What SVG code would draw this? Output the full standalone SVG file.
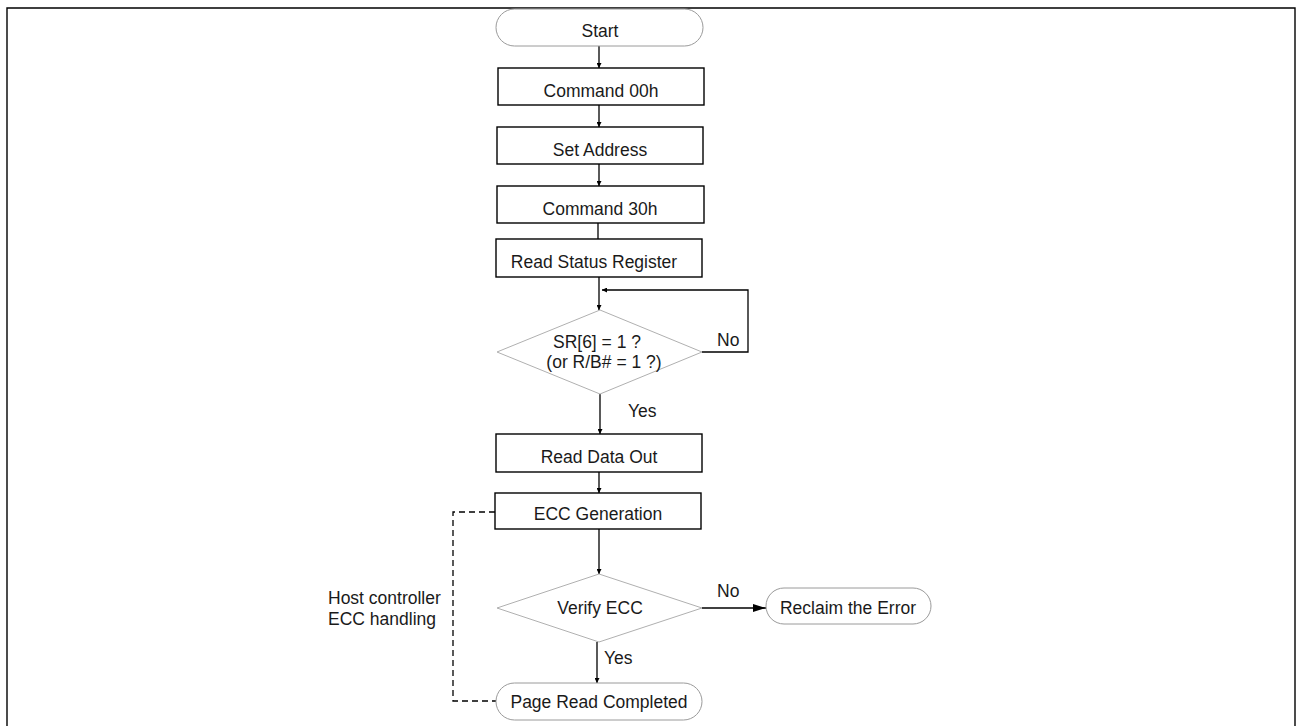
<svg xmlns="http://www.w3.org/2000/svg" width="1297" height="726" viewBox="0 0 1297 726">
<style>
.t{font-family:"Liberation Sans",Arial,sans-serif;font-size:17.5px;fill:#1a1a1a;text-anchor:middle}
.tl{font-family:"Liberation Sans",Arial,sans-serif;font-size:17.5px;fill:#1a1a1a}
.box{fill:#fff;stroke:#000;stroke-width:1.4}
.term{fill:#fff;stroke:#9a9a9a;stroke-width:1}
.dia{fill:#fff;stroke:#b0b0b0;stroke-width:1}
.ln{fill:none;stroke:#000;stroke-width:1.3}
.dash{fill:none;stroke:#000;stroke-width:1.3;stroke-dasharray:6,4}
</style>
<defs>
<marker id="ah" viewBox="0 0 10 10" refX="10" refY="5" markerWidth="5" markerHeight="5" markerUnits="userSpaceOnUse" orient="auto"><path d="M0,0 L10,5 L0,10 z" fill="#000"/></marker>
<marker id="ahb" viewBox="0 0 10 10" refX="10" refY="5" markerWidth="13" markerHeight="8" markerUnits="userSpaceOnUse" orient="auto" preserveAspectRatio="none"><path d="M0,0 L10,5 L0,10 z" fill="#000"/></marker>
</defs>
<rect width="1297" height="726" fill="#fff"/>
<path d="M7,726 V8 H1295 V726" fill="none" stroke="#000" stroke-width="1.4"/>
<g id="connectors">
<line class="ln" x1="599" y1="46" x2="599" y2="68" marker-end="url(#ah)"/>
<line class="ln" x1="599" y1="105" x2="599" y2="127" marker-end="url(#ah)"/>
<line class="ln" x1="599" y1="164" x2="599" y2="186" marker-end="url(#ah)"/>
<line class="ln" x1="598" y1="223" x2="598" y2="239"/>
<line class="ln" x1="599" y1="277" x2="599" y2="310" marker-end="url(#ah)"/>
<polyline class="ln" points="702,352 748,352 748,290 602,290" marker-end="url(#ah)"/>
<line class="ln" x1="600" y1="394" x2="600" y2="434" marker-end="url(#ah)"/>
<line class="ln" x1="599" y1="472" x2="599" y2="493" marker-end="url(#ah)"/>
<line class="ln" x1="599" y1="529" x2="599" y2="574" marker-end="url(#ah)"/>
<line class="ln" x1="702" y1="608" x2="766" y2="608" marker-end="url(#ahb)"/>
<line class="ln" x1="597" y1="642" x2="597" y2="683" marker-end="url(#ah)"/>
<polyline class="dash" points="495,512 453,512 453,701 496,701"/>
<text class="tl" x="717" y="346">No</text>
<text class="tl" x="628" y="417">Yes</text>
<text class="tl" x="717" y="597">No</text>
<text class="tl" x="604" y="664">Yes</text>
<text class="tl" x="328" y="604">Host controller</text>
<text class="tl" x="328" y="625">ECC handling</text>
</g>
<g id="start"><rect class="term" x="496" y="9" width="207" height="37" rx="18.5"/><text class="t" x="600" y="37">Start</text></g>
<g id="cmd00"><rect class="box" x="498" y="68" width="206" height="37"/><text class="t" x="601" y="97">Command 00h</text></g>
<g id="setaddr"><rect class="box" x="497" y="127" width="206" height="37"/><text class="t" x="600" y="156">Set Address</text></g>
<g id="cmd30"><rect class="box" x="497" y="186" width="207" height="37"/><text class="t" x="600" y="215">Command 30h</text></g>
<g id="readsr"><rect class="box" x="496" y="239" width="206" height="38"/><text class="t" x="594" y="268">Read Status Register</text></g>
<g id="dec1"><polygon class="dia" points="600,310 702,352 600,394 497,352"/><text class="t" x="597" y="348">SR[6] = 1 ?</text><text class="t" x="604" y="368">(or R/B# = 1 ?)</text></g>
<g id="readdata"><rect class="box" x="496" y="434" width="206" height="38"/><text class="t" x="599" y="463">Read Data Out</text></g>
<g id="eccgen"><rect class="box" x="495" y="493" width="206" height="36"/><text class="t" x="598" y="520">ECC Generation</text></g>
<g id="dec2"><polygon class="dia" points="599,574 702,608 599,642 497,608"/><text class="t" x="600" y="614">Verify ECC</text></g>
<g id="reclaim"><rect class="term" x="766" y="588" width="165" height="36" rx="18"/><text class="t" x="848" y="614">Reclaim the Error</text></g>
<g id="done"><rect class="term" x="496" y="683" width="206" height="37" rx="18.5"/><text class="t" x="599" y="708">Page Read Completed</text></g>
</svg>
